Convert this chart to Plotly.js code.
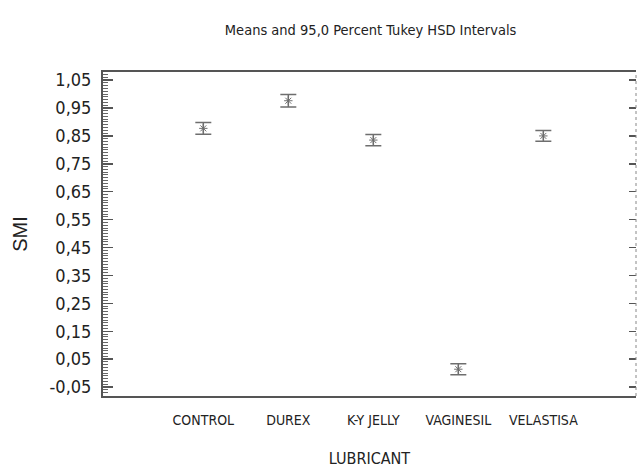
<!DOCTYPE html>
<html>
<head>
<meta charset="utf-8">
<script src="https://cdn.plot.ly/plotly-3.0.1.min.js"></script>
<style>html,body{margin:0;padding:0;background:#fff;}#chart{width:639px;height:468px;}</style>
</head>
<body>
<div id="chart"></div>
<script>
var categories = ["CONTROL", "DUREX", "K-Y JELLY", "VAGINESIL", "VELASTISA"];
var means = [0.877, 0.976, 0.835, 0.014, 0.850];
var halfWidths = [0.021, 0.022, 0.020, 0.020, 0.019];
var tickValues = [-0.05, 0.05, 0.15, 0.25, 0.35, 0.45, 0.55, 0.65, 0.75, 0.85, 0.95, 1.05];
var tickLabels = ["-0,05", "0,05", "0,15", "0,25", "0,35", "0,45", "0,55", "0,65", "0,75", "0,85", "0,95", "1,05"];

var narrow = "Liberation Sans Narrow, DejaVu Sans Condensed, Arial Narrow, sans-serif";
var gray = "#6e6e6e";

var trace = {
  type: "scatter",
  mode: "markers",
  x: categories,
  y: means,
  marker: {symbol: "asterisk-open", size: 7, color: gray, line: {color: gray, width: 1}},
  error_y: {type: "data", array: halfWidths, visible: true, color: gray, thickness: 1.5, width: 8},
  hoverinfo: "x+y"
};
var trace2 = {
  type: "scatter", mode: "markers", x: [categories[0]], y: [means[0]],
  yaxis: "y2", marker: {opacity: 0}, showlegend: false, hoverinfo: "skip"
};

var yr = [-0.082, 1.079];
var layout = {
  width: 639, height: 468,
  margin: {l: 103, r: 3, t: 72, b: 72},
  paper_bgcolor: "#fff", plot_bgcolor: "#fff",
  showlegend: false,
  title: {text: "Means and 95,0 Percent Tukey HSD Intervals", font: {family: narrow, size: 14.5, color: "#222"}, x: 0.58, xanchor: "center", y: 0.935, yanchor: "middle"},
  xaxis: {
    type: "category", range: [-1.18, 5.09],
    showline: true, linecolor: "#555", linewidth: 2, mirror: true,
    ticks: "", showgrid: false, zeroline: false, ticklabelstandoff: 10,
    tickfont: {family: narrow, size: 14, color: "#222"},
    title: {text: "LUBRICANT", font: {family: narrow, size: 16, color: "#222"}, standoff: 30}
  },
  yaxis: {
    range: yr, tickvals: tickValues, ticktext: tickLabels,
    showline: true, linecolor: "#555", linewidth: 2,
    ticks: "inside", ticklen: 10, tickwidth: 1.5, tickcolor: "#555",
    minor: {dtick: 0.01, tick0: -0.05, ticks: "inside", ticklen: 5, tickwidth: 1, tickcolor: "#666", showgrid: false},
    showgrid: false, zeroline: false, ticklabelstandoff: 6,
    tickfont: {family: narrow, size: 18, color: "#222"},
    title: {text: "SMI", font: {family: "Liberation Sans, Arial, sans-serif", size: 20, color: "#222"}, standoff: 17}
  },
  yaxis2: {
    overlaying: "y", side: "right", range: yr, tickvals: tickValues,
    showticklabels: false, showline: false, showgrid: false, zeroline: false,
    ticks: "inside", ticklen: 7, tickwidth: 1.5, tickcolor: "#555"
  },
  shapes: [{type: "line", xref: "paper", yref: "paper", x0: 1, x1: 1, y0: 0, y1: 1,
            line: {color: "#888", width: 1, dash: "dot"}}]
};

Plotly.newPlot("chart", [trace, trace2], layout, {displayModeBar: false, staticPlot: true});
</script>
</body>
</html>
